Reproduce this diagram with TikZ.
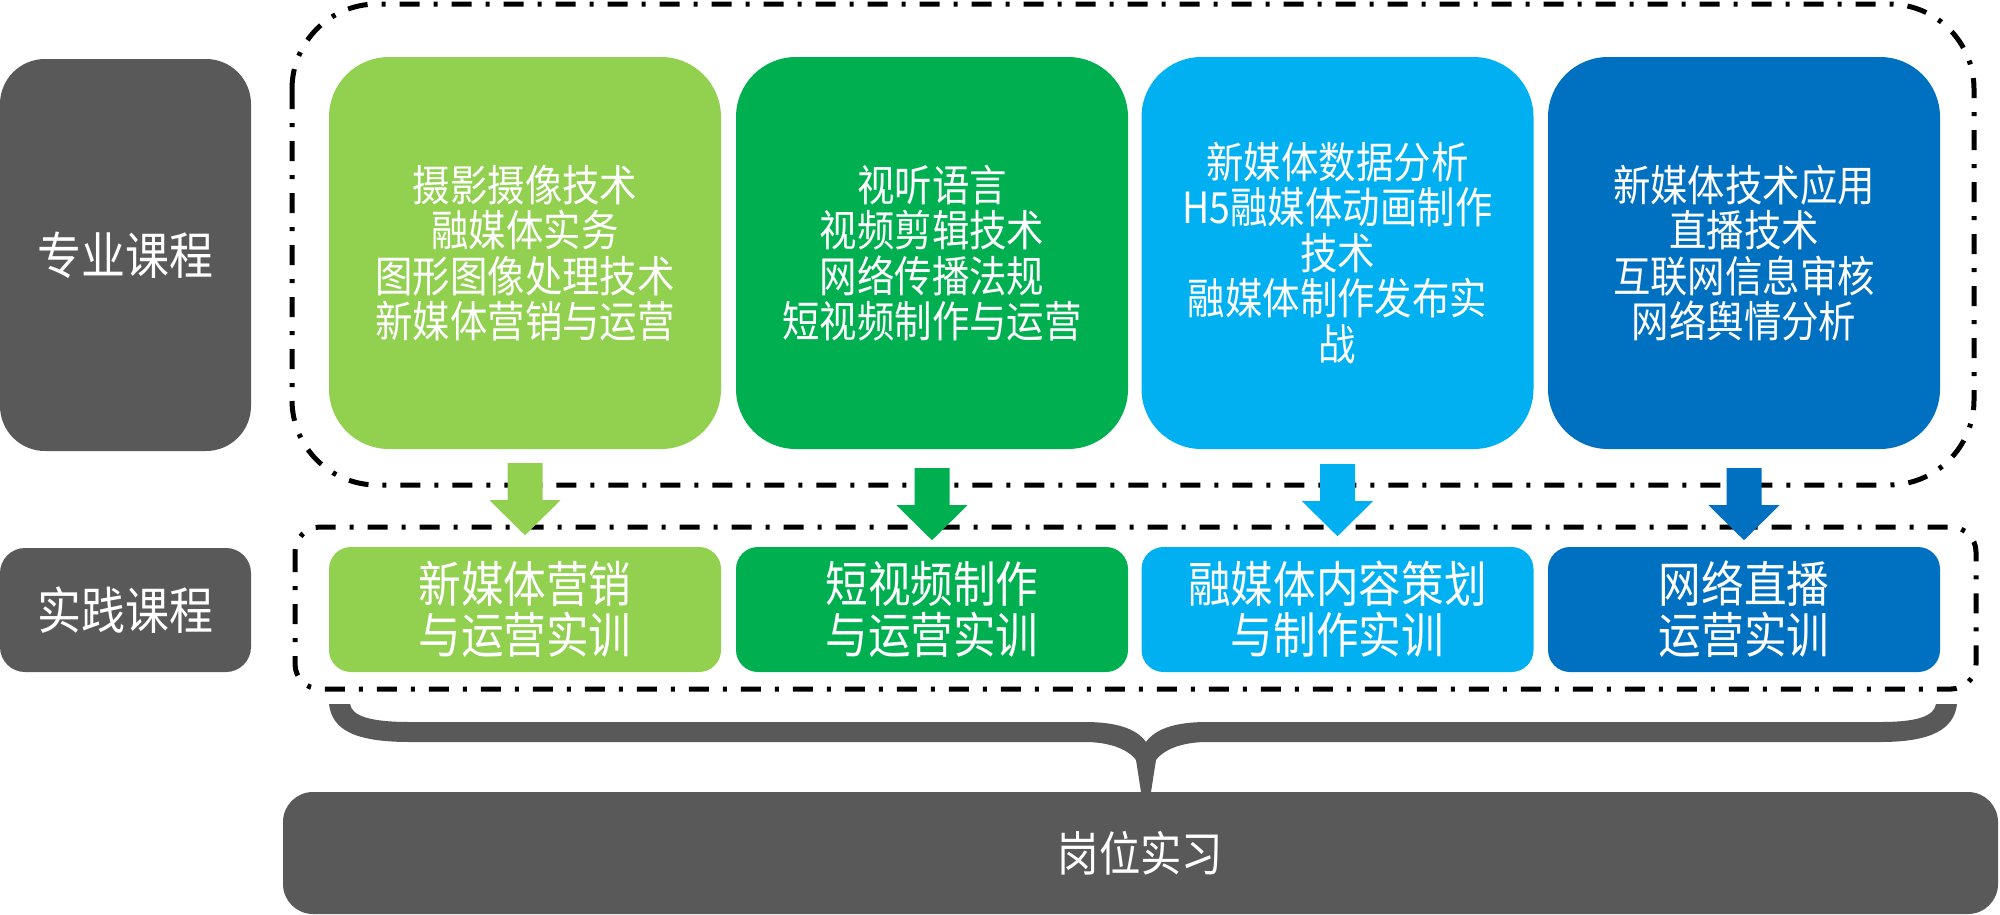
\documentclass[tikz,border=0pt]{standalone}
\usepackage{fontspec}
\setmainfont{Noto Sans CJK SC}[FakeStretch=0.87]
\usetikzlibrary{calc}
\definecolor{cA}{HTML}{92D050}
\definecolor{cB}{HTML}{00B050}
\definecolor{cC}{HTML}{00B0F0}
\definecolor{cD}{HTML}{0070C0}
\definecolor{cG}{HTML}{595959}
\begin{document}
\begin{tikzpicture}[x=1pt,y=-1pt,
  topbox/.style={rounded corners=60pt, minimum width=392pt, minimum height=392pt, inner sep=0pt,
    text=white, align=center, font=\fontsize{43}{45.5}\selectfont},
  lowbox/.style={rounded corners=22pt, minimum width=392pt, minimum height=125pt, inner sep=0pt,
    text=white, align=center, font=\fontsize{49}{51}\selectfont},
  graybox/.style={fill=cG, inner sep=0pt, text=white, align=center},
  dashdot/.style={draw=black, line width=5pt, dash pattern=on 20pt off 14pt on 4pt off 14pt},
  blockarrow/.pic={\fill (-17.5,0) -- (17.5,0) -- (17.5,37) -- (35.5,37) -- (0,72) -- (-35.5,37) -- (-17.5,37) -- cycle;}
]
\useasboundingbox (0,0) rectangle (2000,914);

% dashed group frames
\draw[dashdot, rounded corners=85pt] (292,4) rectangle (1974,485);
\draw[dashdot, rounded corners=25pt] (295,527) rectangle (1976,689);

% left labels
\node[graybox, rounded corners=45pt, minimum width=251pt, minimum height=392pt,
  font=\fontsize{50.5}{55}\selectfont] (zy) at (125.5,255) {专业课程};
\node[graybox, rounded corners=25pt, minimum width=251pt, minimum height=124pt,
  font=\fontsize{50.5}{55}\selectfont] (sj) at (125.5,610) {实践课程};

% top row
\node[topbox, fill=cA] (t1) at (525,253) {摄影摄像技术\\融媒体实务\\图形图像处理技术\\新媒体营销与运营};
\node[topbox, fill=cB] (t2) at (932,253) {视听语言\\视频剪辑技术\\网络传播法规\\短视频制作与运营};
\node[topbox, fill=cC] (t3) at (1337.5,253) {新媒体数据分析\\H5融媒体动画制作\\技术\\融媒体制作发布实\\战};
\node[topbox, fill=cD] (t4) at (1744,253) {新媒体技术应用\\直播技术\\互联网信息审核\\网络舆情分析};

% lower row
\node[lowbox, fill=cA] (b1) at (525,609.5) {新媒体营销\\与运营实训};
\node[lowbox, fill=cB] (b2) at (932,609.5) {短视频制作\\与运营实训};
\node[lowbox, fill=cC] (b3) at (1337.5,609.5) {融媒体内容策划\\与制作实训};
\node[lowbox, fill=cD] (b4) at (1744,609.5) {网络直播\\运营实训};

% block arrows
\pic[fill=cA] at ($(t1.south)+(0,14)$) {blockarrow};
\pic[fill=cB] at ($(t2.south)+(0,19)$) {blockarrow};
\pic[fill=cC] at ($(t3.south)+(0,15)$) {blockarrow};
\pic[fill=cD] at ($(t4.south)+(0,19)$) {blockarrow};

% bottom bar
\node[graybox, rounded corners=30pt, minimum width=1715pt, minimum height=122pt,
  font=\fontsize{47.5}{50}\selectfont] (gw) at (1140.5,853) {岗位实习};

% brace
\fill[cG] (329,704)
  -- (350,704) .. controls (352,716) and (370,722) .. (410,722)
  -- (1085,722) .. controls (1115,722) and (1136,728) .. (1146,742)
  .. controls (1156,728) and (1177,722) .. (1207,722)
  -- (1880,722) .. controls (1918,722) and (1934,716) .. (1936,704)
  -- (1957,704) .. controls (1954,730) and (1930,742) .. (1880,742)
  -- (1207,742) .. controls (1185,742) and (1165,748) .. (1156,760)
  -- (1151,792) -- (1141,792) -- (1136,760)
  .. controls (1127,748) and (1107,742) .. (1085,742)
  -- (410,742) .. controls (355,742) and (332,730) .. (329,704) -- cycle;
\end{tikzpicture}
\end{document}
